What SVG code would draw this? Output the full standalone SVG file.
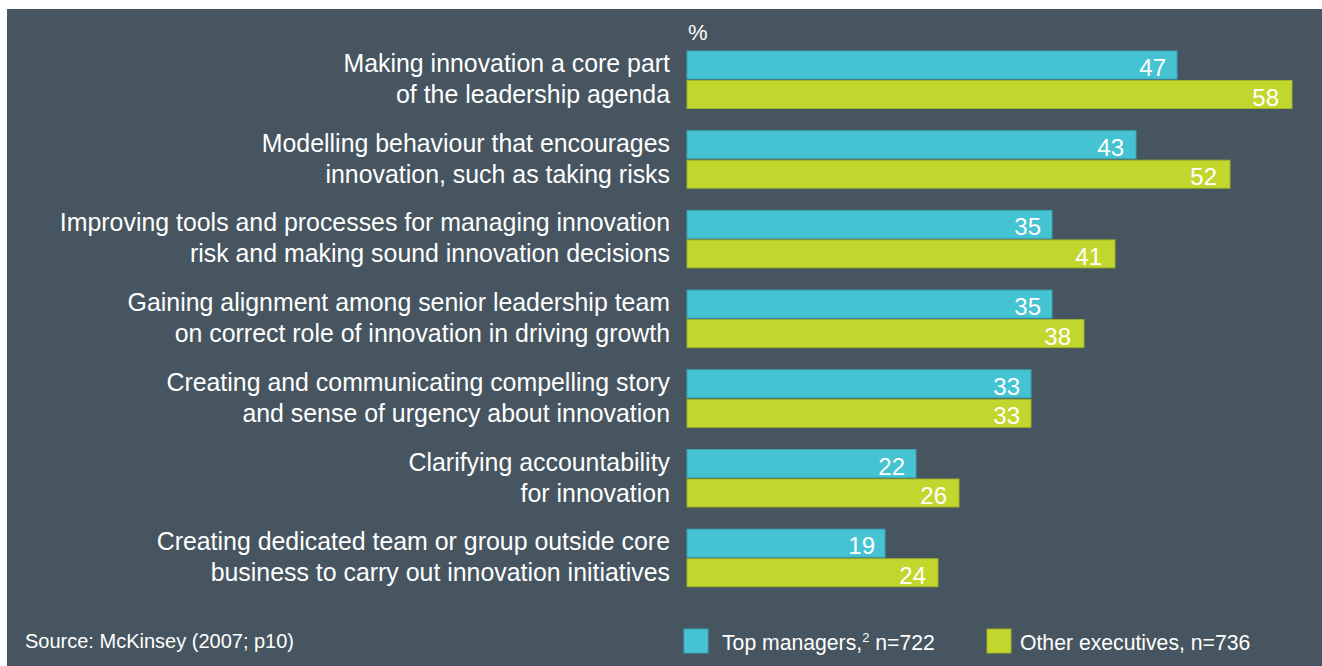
<svg xmlns="http://www.w3.org/2000/svg" width="1322" height="666" viewBox="0 0 1322 666">
<style>
.bg{fill:#46555f}
.lbl{font-family:"Liberation Sans",Arial,sans-serif;font-size:24.9px;fill:#ffffff;text-anchor:end}
.val{font-family:"Liberation Sans",Arial,sans-serif;font-size:24px;fill:#ffffff;text-anchor:end}
.top{fill:#45c3d2;stroke:#3ba6b5;stroke-width:1}
.oth{fill:#c2d72e;stroke:#9fb22a;stroke-width:1}
.src{font-family:"Liberation Sans",Arial,sans-serif;font-size:20px;fill:#ffffff}
.leg{font-family:"Liberation Sans",Arial,sans-serif;font-size:21.2px;fill:#ffffff}
</style>
<rect x="0" y="0" width="1322" height="666" fill="#ffffff"/>
<rect class="bg" x="7" y="9" width="1315" height="657"/>
<text class="src" x="688" y="40" style="font-size:22px">%</text>
<g id="row1">
<text class="lbl" x="670" y="72">Making innovation a core part</text>
<text class="lbl" x="670" y="103">of the leadership agenda</text>
<rect class="top" x="687" y="51" width="490" height="28"/>
<rect class="oth" x="687" y="80.5" width="605" height="28"/>
<text class="val" x="1166" y="76">47</text>
<text class="val" x="1279" y="105.5">58</text>
</g>
<g id="row2" transform="translate(0,79.7)">
<text class="lbl" x="670" y="72">Modelling behaviour that encourages</text>
<text class="lbl" x="670" y="103">innovation, such as taking risks</text>
<rect class="top" x="687" y="51" width="449" height="28"/>
<rect class="oth" x="687" y="80.5" width="543" height="28"/>
<text class="val" x="1124" y="76">43</text>
<text class="val" x="1217" y="105.5">52</text>
</g>
<g id="row3" transform="translate(0,159.4)">
<text class="lbl" x="670" y="72">Improving tools and processes for managing innovation</text>
<text class="lbl" x="670" y="103">risk and making sound innovation decisions</text>
<rect class="top" x="687" y="51" width="365" height="28"/>
<rect class="oth" x="687" y="80.5" width="428" height="28"/>
<text class="val" x="1041" y="76">35</text>
<text class="val" x="1102" y="105.5">41</text>
</g>
<g id="row4" transform="translate(0,239.1)">
<text class="lbl" x="670" y="72">Gaining alignment among senior leadership team</text>
<text class="lbl" x="670" y="103">on correct role of innovation in driving growth</text>
<rect class="top" x="687" y="51" width="365" height="28"/>
<rect class="oth" x="687" y="80.5" width="397" height="28"/>
<text class="val" x="1041" y="76">35</text>
<text class="val" x="1071" y="105.5">38</text>
</g>
<g id="row5" transform="translate(0,318.8)">
<text class="lbl" x="670" y="72">Creating and communicating compelling story</text>
<text class="lbl" x="670" y="103">and sense of urgency about innovation</text>
<rect class="top" x="687" y="51" width="344" height="28"/>
<rect class="oth" x="687" y="80.5" width="344" height="28"/>
<text class="val" x="1020" y="76">33</text>
<text class="val" x="1020" y="105.5">33</text>
</g>
<g id="row6" transform="translate(0,398.5)">
<text class="lbl" x="670" y="72">Clarifying accountability</text>
<text class="lbl" x="670" y="103">for innovation</text>
<rect class="top" x="687" y="51" width="229" height="28"/>
<rect class="oth" x="687" y="80.5" width="272" height="28"/>
<text class="val" x="905" y="76">22</text>
<text class="val" x="947" y="105.5">26</text>
</g>
<g id="row7" transform="translate(0,478.2)">
<text class="lbl" x="670" y="72">Creating dedicated team or group outside core</text>
<text class="lbl" x="670" y="103">business to carry out innovation initiatives</text>
<rect class="top" x="687" y="51" width="198" height="28"/>
<rect class="oth" x="687" y="80.5" width="251" height="28"/>
<text class="val" x="875" y="76">19</text>
<text class="val" x="926" y="105.5">24</text>
</g>
<g id="source">
<text class="src" x="25" y="648">Source: McKinsey (2007; p10)</text>
</g>
<g id="legend">
<rect class="top" x="684" y="629" width="24" height="24"/>
<text class="leg" x="722" y="650">Top managers,<tspan dy="-8" style="font-size:13px">2</tspan><tspan dy="8"> n=722</tspan></text>
<rect class="oth" x="987" y="629" width="24" height="24"/>
<text class="leg" x="1020" y="650">Other executives, n=736</text>
</g>
</svg>
